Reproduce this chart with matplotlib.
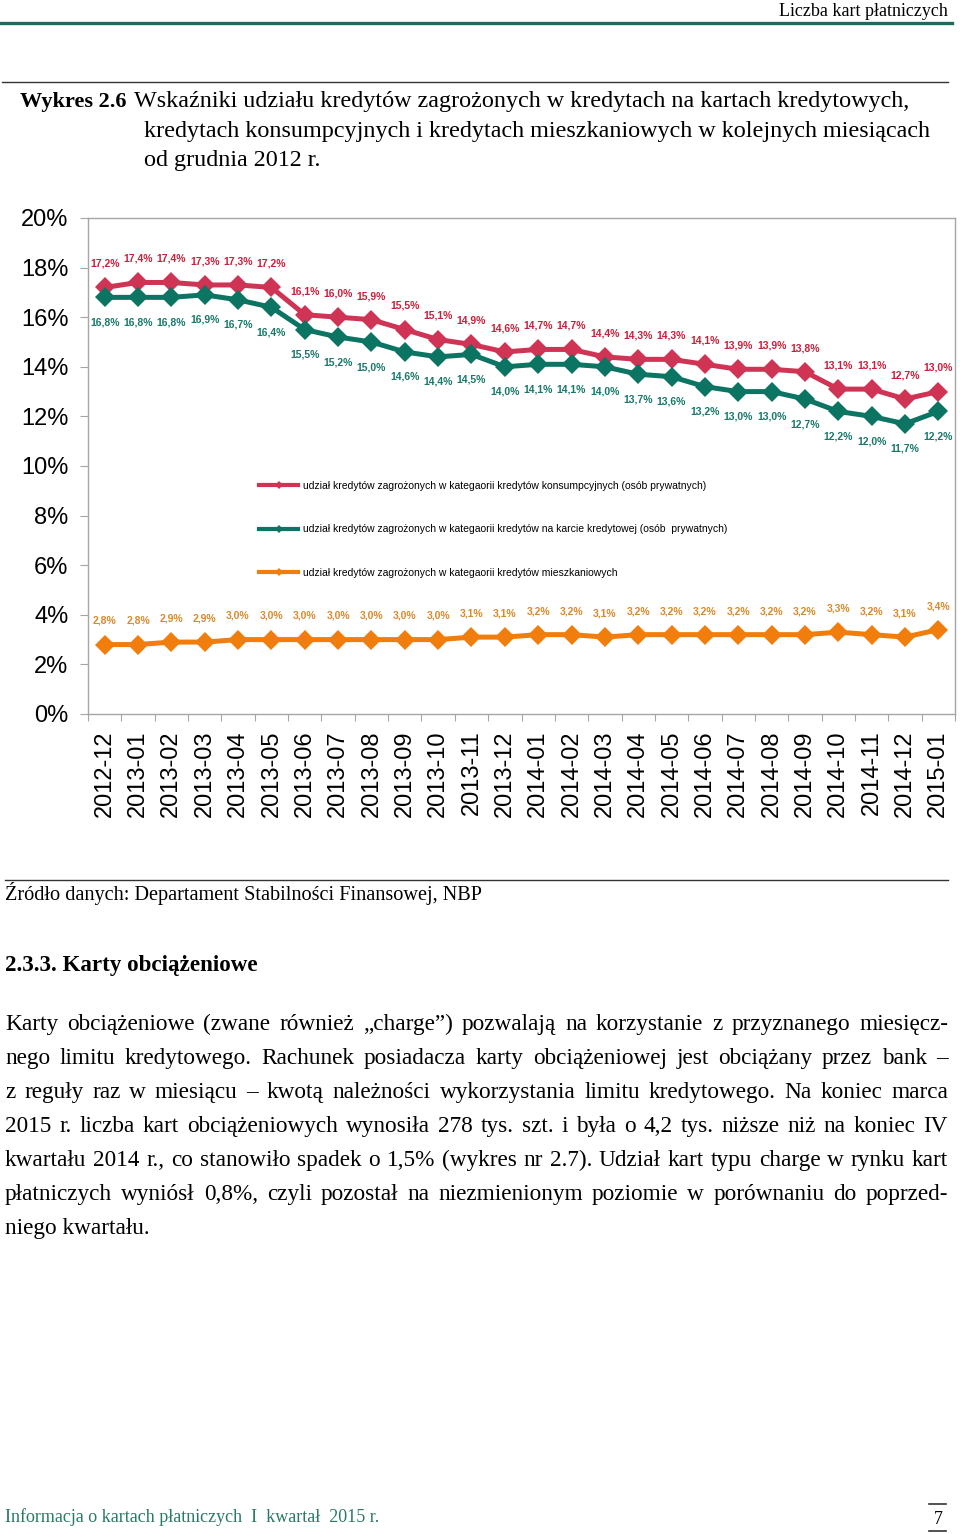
import matplotlib
matplotlib.use("Agg")

import matplotlib.pyplot as plt
import numpy as np
from matplotlib.lines import Line2D

W, H = 960, 1534

months = ["2012-12", "2013-01", "2013-02", "2013-03", "2013-04", "2013-05",
          "2013-06", "2013-07", "2013-08", "2013-09", "2013-10", "2013-11",
          "2013-12", "2014-01", "2014-02", "2014-03", "2014-04", "2014-05",
          "2014-06", "2014-07", "2014-08", "2014-09", "2014-10", "2014-11",
          "2014-12", "2015-01"]
konsumpcyjne = [17.2, 17.4, 17.4, 17.3, 17.3, 17.2, 16.1, 16.0, 15.9, 15.5,
                15.1, 14.9, 14.6, 14.7, 14.7, 14.4, 14.3, 14.3, 14.1, 13.9,
                13.9, 13.8, 13.1, 13.1, 12.7, 13.0]
karty = [16.8, 16.8, 16.8, 16.9, 16.7, 16.4, 15.5, 15.2, 15.0, 14.6,
         14.4, 14.5, 14.0, 14.1, 14.1, 14.0, 13.7, 13.6, 13.2, 13.0,
         13.0, 12.7, 12.2, 12.0, 11.7, 12.2]
mieszkaniowe = [2.8, 2.8, 2.9, 2.9, 3.0, 3.0, 3.0, 3.0, 3.0, 3.0,
                3.0, 3.1, 3.1, 3.2, 3.2, 3.1, 3.2, 3.2, 3.2, 3.2,
                3.2, 3.2, 3.3, 3.2, 3.1, 3.4]
series_names = [
    "udział kredytów zagrożonych w kategaorii kredytów konsumpcyjnych (osób prywatnych)",
    "udział kredytów zagrożonych w kategaorii kredytów na karcie kredytowej (osób  prywatnych)",
    "udział kredytów zagrożonych w kategaorii kredytów mieszkaniowych",
]
y_ticks = [0, 2, 4, 6, 8, 10, 12, 14, 16, 18, 20]

RED, RED_TXT = "#cf3455", "#c8203c"
GREEN, GREEN_TXT = "#0c7463", "#18786a"
ORANGE, ORANGE_TXT = "#f07d0c", "#d98a2c"
SPINE = "#a6a6a6"

paragraph = [
    "Karty obciążeniowe (zwane również „charge”) pozwalają na korzystanie z przyznanego miesięcz-",
    "nego limitu kredytowego. Rachunek posiadacza karty obciążeniowej jest obciążany przez bank –",
    "z reguły raz w miesiącu – kwotą należności wykorzystania limitu kredytowego. Na koniec marca",
    "2015 r. liczba kart obciążeniowych wynosiła 278 tys. szt. i była o 4,2 tys. niższe niż na koniec IV",
    "kwartału 2014 r., co stanowiło spadek o 1,5% (wykres nr 2.7). Udział kart typu charge w rynku kart",
    "płatniczych wyniósł 0,8%, czyli pozostał na niezmienionym poziomie w porównaniu do poprzed-",
    "niego kwartału.",
]


def fy(py):
    return 1 - py / H


def fx(px):
    return px / W


def pct(v):
    return f"{v:.1f}".replace(".", ",") + "%"


fig = plt.figure(figsize=(W / 100, H / 100), dpi=100)
fig.patch.set_facecolor("white")
serif = "Liberation Serif"
sans = "Liberation Sans"
renderer = fig.canvas.get_renderer()

# ---- page header
fig.text(fx(948), fy(16), "Liczba kart płatniczych", family=serif, fontsize=13,
         ha="right", va="baseline")
fig.add_artist(Line2D([0, fx(952)], [fy(23), fy(23)], color="#1d6b5c", lw=2.4))
fig.add_artist(Line2D([fx(2), fx(948)], [fy(82), fy(82)], color="#333333", lw=1.0))

fig.text(fx(20), fy(107), "Wykres 2.6", family=serif, fontsize=16, fontweight="bold",
         va="baseline")
title_lines = [
    (134, 107, "Wskaźniki udziału kredytów zagrożonych w kredytach na kartach kredytowych,"),
    (144, 137, "kredytach konsumpcyjnych i kredytach mieszkaniowych w kolejnych miesiącach"),
    (144, 166, "od grudnia 2012 r."),
]
for x, y, t in title_lines:
    fig.text(fx(x), fy(y), t, family=serif, fontsize=17.4, va="baseline")

# ---- chart
ax = fig.add_axes([fx(88), fy(714), fx(955 - 88), (714 - 218) / H])
xs = np.arange(len(months))
series = [
    (konsumpcyjne, RED, RED_TXT, 17),
    (karty, GREEN, GREEN_TXT, -18),
    (mieszkaniowe, ORANGE, ORANGE_TXT, 17),
]
handles = []
for (vals, col, tcol, dy), name in zip(series, series_names):
    ax.plot(xs, vals, color=col, lw=3.6, marker="D", markersize=10.5, mew=0,
            solid_joinstyle="round")
    for i, v in zip(xs, vals):
        ax.annotate(pct(v), (i, v), xytext=(0, dy), textcoords="offset points",
                    ha="center", va="center", fontsize=7.5, fontweight="bold",
                    color=tcol, family=sans)
    handles.append(Line2D([], [], color=col, lw=3, marker="D", markersize=4.5, mew=0))

ax.legend(handles, series_names, loc="upper left",
          bbox_to_anchor=(fx(259), fy(481)), bbox_transform=fig.transFigure,
          frameon=False, prop={"family": sans, "size": 7.5}, labelspacing=3.2,
          handlelength=3.75, handletextpad=0.45, borderpad=0, borderaxespad=0)

ax.set_xlim(-0.5, len(months) - 0.5)
ax.set_ylim(0, 20)
ax.set_yticks(y_ticks)
ax.set_yticklabels([f"{t}%" for t in y_ticks], family=sans, fontsize=17)
ax.tick_params(axis="y", length=6, width=0.8, color=SPINE, pad=8)
ax.set_xticks(xs)
ax.set_xticklabels(months, rotation=90, family=sans, fontsize=17)
ax.tick_params(axis="x", which="major", length=0, pad=12)
ax.set_xticks(np.arange(-0.5, len(months)), minor=True)
ax.tick_params(axis="x", which="minor", length=5, width=0.8, color=SPINE)
for s in ax.spines.values():
    s.set_color(SPINE)
    s.set_linewidth(1.0)

# ---- text below chart
fig.add_artist(Line2D([fx(5), fx(948)], [fy(880), fy(880)], color="#333333", lw=1.0))
fig.text(fx(5), fy(900), "Źródło danych: Departament Stabilności Finansowej, NBP",
         family=serif, fontsize=14.6, va="baseline")
fig.text(fx(5), fy(971), "2.3.3. Karty obciążeniowe", family=serif, fontsize=16.6,
         fontweight="bold", va="baseline")

# pick the paragraph size so the widest line just fits, then justify
probe = fig.text(0, 0, "", family=serif, fontsize=16)
widest = 0
for line in paragraph:
    probe.set_text(line)
    widest = max(widest, probe.get_window_extent(renderer).width)
probe.remove()
psize = 16 * (948 - 5) / widest * 0.985

for n, line in enumerate(paragraph):
    y = fy(1030 + 34 * n)
    if n == len(paragraph) - 1:
        fig.text(fx(5), y, line, family=serif, fontsize=psize, va="baseline")
        continue
    words = line.split(" ")
    arts = [fig.text(0, y, w, family=serif, fontsize=psize, va="baseline") for w in words]
    widths = [a.get_window_extent(renderer).width for a in arts]
    gap = (948 - 5 - sum(widths)) / (len(words) - 1)
    x = 5.0
    for a, w in zip(arts, widths):
        a.set_x(fx(x))
        x += w + gap

# ---- footer
fig.text(fx(5), fy(1522), "Informacja o kartach płatniczych  I  kwartał  2015 r.",
         family=serif, fontsize=13, color="#2a7a66", va="baseline")
fig.text(fx(938), fy(1524), "7", family=serif, fontsize=13, ha="center", va="baseline")
fig.add_artist(Line2D([fx(929), fx(946)], [fy(1504), fy(1504)], color="#333333", lw=1.2))
fig.add_artist(Line2D([fx(929), fx(946)], [fy(1531), fy(1531)], color="#333333", lw=1.2))

fig.savefig("out.png", dpi=100, facecolor="white")
